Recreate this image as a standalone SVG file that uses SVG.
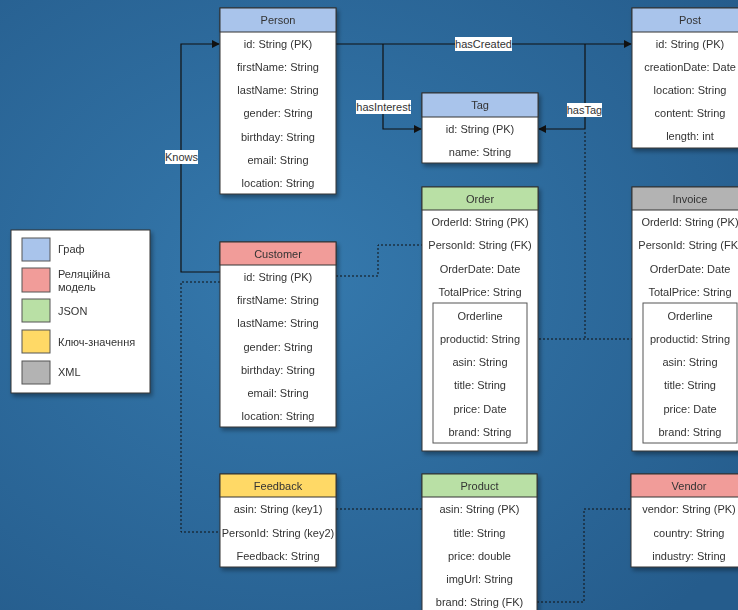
<svg xmlns="http://www.w3.org/2000/svg" width="738" height="610" viewBox="0 0 738 610">
<defs>
<radialGradient id="bg" cx="0.4" cy="0.45" r="0.75">
<stop offset="0" stop-color="#3579ad"/>
<stop offset="1" stop-color="#255c8c"/>
</radialGradient>
<filter id="sh" x="-10%" y="-10%" width="130%" height="130%">
<feDropShadow dx="2" dy="3" stdDeviation="2" flood-color="#000" flood-opacity="0.35"/>
</filter>
<marker id="ar" viewBox="0 0 10 10" refX="9" refY="5" markerWidth="8" markerHeight="8" orient="auto" markerUnits="userSpaceOnUse">
<path d="M0,0 L10,5 L0,10 Z" fill="#111"/>
</marker>
<style>
text{font-family:"Liberation Sans",Arial,sans-serif;font-size:11px;fill:#333;text-anchor:middle;}
.box{fill:#fff;stroke:#333;stroke-width:1;}
.hb{stroke:#333;stroke-width:1;}
.g{fill:#a9c4eb;}
.r{fill:#f19c99;}
.j{fill:#b9e0a5;}
.y{fill:#ffd966;}
.x{fill:#b3b3b3;}
.in{fill:none;stroke:#555;stroke-width:1;}
.ln{fill:none;stroke:#111;stroke-width:1.2;}
.dt{fill:none;stroke:#111;stroke-width:1;stroke-dasharray:2 2;}
.lb{fill:#fff;}
.lt{text-anchor:start;}
</style>
</defs>
<rect width="738" height="610" fill="url(#bg)"/>

<g id="connectors">
<path class="ln" d="M220,272 H181 V44 H219" marker-end="url(#ar)"/>
<path class="ln" d="M336,44 H631" marker-end="url(#ar)"/>
<path class="ln" d="M383,44 V129 H421" marker-end="url(#ar)"/>
<path class="ln" d="M585,44 V129 H539" marker-end="url(#ar)"/>
<path class="dt" d="M585,132 V339"/>
<path class="dt" d="M527,339 H643"/>
<path class="dt" d="M336,276 H378 V245 H422"/>
<path class="dt" d="M220,282 H181 V532 H220"/>
<path class="dt" d="M336,509 H422"/>
<path class="dt" d="M537,602 H584 V509 H631"/>
<rect class="lb" x="165" y="150" width="33" height="14"/>
<text x="181.5" y="161">Knows</text>
<rect class="lb" x="455" y="37" width="57" height="14"/>
<text x="483.5" y="48">hasCreated</text>
<rect class="lb" x="356" y="100" width="55" height="14"/>
<text x="383.5" y="111">hasInterest</text>
<rect class="lb" x="567" y="103" width="35" height="14"/>
<text x="584.5" y="114">hasTag</text>
</g>

<g id="person" filter="url(#sh)">
<rect class="box" x="220" y="8" width="116" height="186"/>
<rect class="g hb" x="220" y="8" width="116" height="24"/>
<text x="278" y="24">Person</text>
<text x="278" y="48">id: String (PK)</text>
<text x="278" y="71">firstName: String</text>
<text x="278" y="94">lastName: String</text>
<text x="278" y="117">gender: String</text>
<text x="278" y="141">birthday: String</text>
<text x="278" y="164">email: String</text>
<text x="278" y="187">location: String</text>
</g>

<g id="post" filter="url(#sh)">
<rect class="box" x="632" y="8" width="116" height="140"/>
<rect class="g hb" x="632" y="8" width="116" height="24"/>
<text x="690" y="24">Post</text>
<text x="690" y="48">id: String (PK)</text>
<text x="690" y="71">creationDate: Date</text>
<text x="690" y="94">location: String</text>
<text x="690" y="117">content: String</text>
<text x="690" y="140">length: int</text>
</g>

<g id="tag" filter="url(#sh)">
<rect class="box" x="422" y="93" width="116" height="70"/>
<rect class="g hb" x="422" y="93" width="116" height="24"/>
<text x="480" y="109">Tag</text>
<text x="480" y="133">id: String (PK)</text>
<text x="480" y="156">name: String</text>
</g>

<g id="customer" filter="url(#sh)">
<rect class="box" x="220" y="242" width="116" height="185"/>
<rect class="r hb" x="220" y="242" width="116" height="23"/>
<text x="278" y="258">Customer</text>
<text x="278" y="281">id: String (PK)</text>
<text x="278" y="304">firstName: String</text>
<text x="278" y="327">lastName: String</text>
<text x="278" y="351">gender: String</text>
<text x="278" y="374">birthday: String</text>
<text x="278" y="397">email: String</text>
<text x="278" y="420">location: String</text>
</g>

<g id="order" filter="url(#sh)">
<rect class="box" x="422" y="187" width="116" height="264"/>
<rect class="j hb" x="422" y="187" width="116" height="23"/>
<text x="480" y="203">Order</text>
<text x="480" y="226">OrderId: String (PK)</text>
<text x="480" y="249">PersonId: String (FK)</text>
<text x="480" y="273">OrderDate: Date</text>
<text x="480" y="296">TotalPrice: String</text>
<rect class="in" x="433" y="303" width="94" height="140"/>
<text x="480" y="320">Orderline</text>
<text x="480" y="343">productid: String</text>
<text x="480" y="366">asin: String</text>
<text x="480" y="389">title: String</text>
<text x="480" y="413">price: Date</text>
<text x="480" y="436">brand: String</text>
</g>

<g id="invoice" filter="url(#sh)">
<rect class="box" x="632" y="187" width="116" height="264"/>
<rect class="x hb" x="632" y="187" width="116" height="23"/>
<text x="690" y="203">Invoice</text>
<text x="690" y="226">OrderId: String (PK)</text>
<text x="690" y="249">PersonId: String (FK)</text>
<text x="690" y="273">OrderDate: Date</text>
<text x="690" y="296">TotalPrice: String</text>
<rect class="in" x="643" y="303" width="94" height="140"/>
<text x="690" y="320">Orderline</text>
<text x="690" y="343">productid: String</text>
<text x="690" y="366">asin: String</text>
<text x="690" y="389">title: String</text>
<text x="690" y="413">price: Date</text>
<text x="690" y="436">brand: String</text>
</g>

<g id="feedback" filter="url(#sh)">
<rect class="box" x="220" y="474" width="116" height="93"/>
<rect class="y hb" x="220" y="474" width="116" height="23"/>
<text x="278" y="490">Feedback</text>
<text x="278" y="513">asin: String (key1)</text>
<text x="278" y="537">PersonId: String (key2)</text>
<text x="278" y="560">Feedback: String</text>
</g>

<g id="product" filter="url(#sh)">
<rect class="box" x="422" y="474" width="115" height="140"/>
<rect class="j hb" x="422" y="474" width="115" height="23"/>
<text x="479.5" y="490">Product</text>
<text x="479.5" y="513">asin: String (PK)</text>
<text x="479.5" y="537">title: String</text>
<text x="479.5" y="560">price: double</text>
<text x="479.5" y="583">imgUrl: String</text>
<text x="479.5" y="606">brand: String (FK)</text>
</g>

<g id="vendor" filter="url(#sh)">
<rect class="box" x="631" y="474" width="116" height="93"/>
<rect class="r hb" x="631" y="474" width="116" height="23"/>
<text x="689" y="490">Vendor</text>
<text x="689" y="513">vendor: String (PK)</text>
<text x="689" y="537">country: String</text>
<text x="689" y="560">industry: String</text>
</g>

<g id="legend" filter="url(#sh)">
<rect x="11" y="230" width="139" height="163" fill="#fff" stroke="#333" stroke-width="1"/>
<rect class="g" x="22" y="238" width="28" height="23" stroke="#555"/>
<rect class="r" x="22" y="268" width="28" height="24" stroke="#555"/>
<rect class="j" x="22" y="299" width="28" height="23" stroke="#555"/>
<rect class="y" x="22" y="330" width="28" height="23" stroke="#555"/>
<rect class="x" x="22" y="361" width="28" height="23" stroke="#555"/>
<text class="lt" x="58" y="253">Граф</text>
<text class="lt" x="58" y="278">Реляційна</text>
<text class="lt" x="58" y="291">модель</text>
<text class="lt" x="58" y="315">JSON</text>
<text class="lt" x="58" y="346">Ключ-значення</text>
<text class="lt" x="58" y="376">XML</text>
</g>
</svg>
